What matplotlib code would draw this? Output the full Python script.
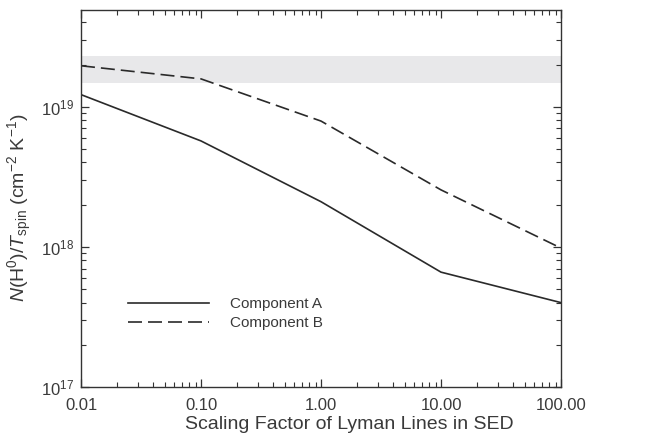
import matplotlib
matplotlib.use('Agg')
import matplotlib.pyplot as plt
from matplotlib.ticker import FixedLocator, FixedFormatter, LogLocator, NullFormatter

plt.rcParams['font.family'] = ['Liberation Sans', 'DejaVu Sans']
plt.rcParams['mathtext.fontset'] = 'custom'
plt.rcParams['mathtext.rm'] = 'Liberation Sans'
plt.rcParams['mathtext.it'] = 'Liberation Sans:italic'

scale = [0.01, 0.1, 1, 10, 100]
comp_a = [1.22e19, 5.7e18, 2.1e18, 6.6e17, 4.0e17]
comp_b = [1.96e19, 1.58e19, 7.9e18, 2.55e18, 0.98e18]
band = [1.48e19, 2.31e19]
xlabels = ['0.01', '0.10', '1.00', '10.00', '100.00']

txt = '#3a3a3a'
fig = plt.figure(figsize=(6.45, 4.41), dpi=100)
ax = fig.add_axes([81/645, 1 - 387/441, 480/645, 377/441])

ax.axhspan(band[0], band[1], color='#e8e8ea', lw=0, zorder=0)
ax.plot(scale, comp_a, color='#2a2a2a', lw=1.2, label='Component A')
ax.plot(scale, comp_b, color='#2a2a2a', lw=1.2, dashes=(8.4, 3.6), label='Component B')

ax.set_xscale('log')
ax.set_yscale('log')
ax.set_xlim(0.01, 100)
ax.set_ylim(1e17, 4.9e19)

ax.xaxis.set_major_locator(FixedLocator(scale))
ax.xaxis.set_major_formatter(FixedFormatter(xlabels))
ax.xaxis.set_minor_locator(LogLocator(base=10, subs=range(2, 10)))
ax.xaxis.set_minor_formatter(NullFormatter())
ax.yaxis.set_major_locator(FixedLocator([1e17, 1e18, 1e19]))
ax.yaxis.set_minor_locator(LogLocator(base=10, subs=range(2, 10)))
ax.yaxis.set_minor_formatter(NullFormatter())

ax.tick_params(which='both', direction='in', top=True, right=True, colors='#333333', labelcolor=txt, labelsize=12)
ax.tick_params(which='major', length=6, width=0.9)
ax.tick_params(which='minor', length=3.5, width=0.8)
ax.tick_params(axis='x', pad=8)
ax.tick_params(axis='y', pad=5)
for s in ax.spines.values():
    s.set_color('#333333')
    s.set_linewidth(1.0)

ax.set_xlabel('Scaling Factor of Lyman Lines in SED', fontsize=14, color=txt, labelpad=2)
ax.set_ylabel(r'$N$(H$^{0}$)/$T_{\mathrm{spin}}$ (cm$^{-2}$ K$^{-1}$)', fontsize=14, color=txt, labelpad=5)
ax.xaxis.label.set_x(0.56)
ax.yaxis.label.set_y(0.475)

leg = ax.legend(loc='upper left', bbox_to_anchor=(0.085, 0.255), frameon=False, fontsize=11,
                handlelength=5.3, handletextpad=1.4, labelspacing=0.35, borderaxespad=0)
for t in leg.get_texts():
    t.set_color(txt)

fig.savefig('out.png', dpi=100)
